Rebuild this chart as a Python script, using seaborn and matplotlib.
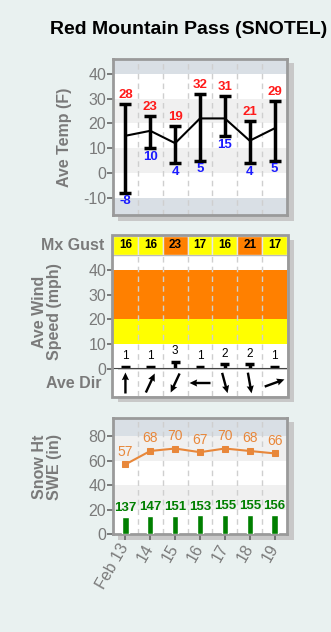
import numpy as np
import pandas as pd
import matplotlib
matplotlib.use("Agg")
import matplotlib.pyplot as plt
import seaborn as sns
from matplotlib.patches import Rectangle

# ---------------- data ----------------
dates = ["Feb 13", "14", "15", "16", "17", "18", "19"]
temp_max = [28, 23, 19, 32, 31, 21, 29]
temp_min = [-8, 10, 4, 5, 15, 4, 5]
temp_avg = [15, 17, 12, 22, 22, 13, 18]
gust = [16, 16, 23, 17, 16, 21, 17]
wind_avg = [1, 1, 3, 1, 2, 2, 1]
wind_dir_deg = [90, 65, 245, 180, 285, 280, 20]   # screen angle the arrow points to
snow_depth = [57, 68, 70, 67, 70, 68, 66]
swe = [13.7, 14.7, 15.1, 15.3, 15.5, 15.5, 15.6]
swe_labels = ["137", "147", "151", "153", "155", "155", "156"]

temp_ticks = [-10, 0, 10, 20, 30, 40]
wind_ticks = [0, 10, 20, 30, 40]
snow_ticks = [0, 20, 40, 60, 80]

# ---------------- style ----------------
sns.set_theme(style="white")
plt.rcParams["font.family"] = ["Liberation Sans", "DejaVu Sans"]

W, H = 331, 632
BG = "#e9f1f0"
GREY_TXT = "#7a7a7a"
FRAME = "#9a9a9a"
SHADOW = "#c8c8c8"
BAND_BLUE = "#d9dfe5"
BAND_GREY = "#f0f0f0"
ORANGE = "#ff8000"
YELLOW = "#ffff00"
SNOW_C = "#e8873a"
SWE_C = "#007f00"
DASH = "#cfcfcf"

fig = plt.figure(figsize=(W / 100, H / 100), dpi=100, facecolor=BG)


def rect(x0, y0, x1, y1):
    return [x0 / W, 1 - y1 / H, (x1 - x0) / W, (y1 - y0) / H]


def shadow(x0, y0, x1, y1, dx=6, dy=5):
    r = Rectangle(((x0 + dx) / W, 1 - (y1 + dy) / H), (x1 - x0) / W, (y1 - y0) / H,
                  transform=fig.transFigure, facecolor=SHADOW, edgecolor="none", zorder=-1)
    fig.patches.append(r)


def frame(x0, y0, x1, y1):
    r = Rectangle((x0 / W, 1 - y1 / H), (x1 - x0) / W, (y1 - y0) / H,
                  transform=fig.transFigure, facecolor="none", edgecolor=FRAME, lw=2, zorder=10)
    fig.patches.append(r)


def style_axis(ax, ticks, spines=True):
    ax.set_xlim(-0.5, 6.5)
    ax.set_yticks(ticks)
    ax.set_yticklabels([str(t) for t in ticks], color=GREY_TXT, fontsize=11.5)
    ax.tick_params(axis="y", direction="out", length=4, width=1.2, color="#666666", pad=1, left=True)
    for s in ax.spines.values():
        s.set_visible(spines)
        s.set_color(FRAME)
        s.set_linewidth(2)
    for b in np.arange(0.5, 6.5, 1):
        ax.axvline(b, color=DASH, lw=1, ls=(0, (4, 3)), zorder=1)


xs = np.arange(len(dates))

fig.text(189 / W, 1 - 30 / H, "Red Mountain Pass (SNOTEL)", ha="center", va="center",
         fontsize=14, fontweight="bold", color="black")

# ---------------- temperature panel ----------------
shadow(112, 58, 288, 216)
ax1 = fig.add_axes(rect(113, 59, 287, 215))
ax1.set_facecolor("white")
ax1.set_ylim(-17, 46)
for lo, hi, c in [(40, 46, BAND_BLUE), (20, 30, BAND_GREY), (0, 10, BAND_GREY), (-17, -10, BAND_BLUE)]:
    ax1.axhspan(lo, hi, color=c, zorder=0, lw=0)
style_axis(ax1, temp_ticks)
ax1.set_xticks([])
tdf = pd.DataFrame({"x": xs, "avg": temp_avg, "mn": temp_min, "mx": temp_max})
ax1.errorbar(tdf["x"], tdf["avg"], yerr=[tdf["avg"] - tdf["mn"], tdf["mx"] - tdf["avg"]],
             fmt="none", ecolor="black", elinewidth=2.5, capsize=4, capthick=2.5, zorder=3)
sns.lineplot(data=tdf, x="x", y="avg", color="black", lw=1.5, ax=ax1, zorder=4)
for i in xs:
    ax1.annotate(str(temp_max[i]), (i, temp_max[i]), xytext=(0, 2), textcoords="offset points",
                 ha="center", va="bottom", color="#ff1a1a", fontsize=9.5, fontweight="bold")
    ax1.annotate(str(temp_min[i]), (i, temp_min[i]), xytext=(0, -2), textcoords="offset points",
                 ha="center", va="top", color="#1a1aff", fontsize=9.5, fontweight="bold")
ax1.set_xlabel("")
ax1.set_ylabel("Ave Temp (F)", color=GREY_TXT, fontsize=11.5, fontweight="bold")
ax1.yaxis.set_label_coords((72 - 113) / 174, 0.5)

# ---------------- wind panel ----------------
shadow(112, 235, 288, 397)
axg = fig.add_axes(rect(113, 236, 287, 255))
axg.set_xlim(-0.5, 6.5)
axg.set_ylim(0, 1)
gcolors = [YELLOW if g < 20 else ORANGE for g in gust]
axg.bar(xs, [1] * len(xs), width=1, color=gcolors, edgecolor="#e6e6e6", lw=1)
for i in xs:
    axg.text(i, 0.5, str(gust[i]), ha="center", va="center", fontsize=8.5,
             fontweight="bold", color="black")
axg.set_xticks([])
axg.set_yticks([])
for s in axg.spines.values():
    s.set_visible(False)

axw = fig.add_axes(rect(113, 255, 287, 369))
axw.set_facecolor("white")
axw.set_ylim(0, 46)
axw.axhspan(20, 40, color=ORANGE, lw=0, zorder=0)
axw.axhspan(10, 20, color=YELLOW, lw=0, zorder=0)
style_axis(axw, wind_ticks, spines=False)
axw.set_xticks([])
axw.axhline(46, color="#bbbbbb", lw=1)
axw.vlines(xs, 0, wind_avg, color="black", lw=2.5, zorder=3)
axw.hlines(wind_avg, xs - 0.18, xs + 0.18, color="black", lw=2.5, zorder=3)
for i in xs:
    axw.annotate(str(wind_avg[i]), (i, wind_avg[i]), xytext=(0, 3), textcoords="offset points",
                 ha="center", va="bottom", fontsize=8.5, color="black")
axw.axhline(0, color="#444444", lw=1.5, zorder=4)
axw.set_ylabel("Ave Wind\nSpeed (mph)", color=GREY_TXT, fontsize=11.5, fontweight="bold",
               linespacing=1.0)
axw.yaxis.set_label_coords((62 - 113) / 174, 0.5)

axd = fig.add_axes(rect(113, 370, 287, 396))
axd.set_facecolor("white")
axd.set_xlim(-0.5, 6.5)
axd.set_ylim(-1, 1)
for b in np.arange(0.5, 6.5, 1):
    axd.axvline(b, color=DASH, lw=1, ls=(0, (4, 3)), zorder=1)
ang = np.deg2rad(wind_dir_deg)
L = 21
axd.quiver(xs, np.zeros(len(xs)), L * np.cos(ang), L * np.sin(ang), angles="uv",
           scale_units="dots", scale=1, pivot="middle", units="dots", width=2.4,
           headwidth=3.0, headlength=3.2, headaxislength=2.9, color="black", zorder=3)
axd.set_xticks([])
axd.set_yticks([])
for s in axd.spines.values():
    s.set_visible(False)
frame(112, 235, 288, 397)

fig.text(104 / W, 1 - 245 / H, "Mx Gust", ha="right", va="center", fontsize=11.5,
         fontweight="bold", color=GREY_TXT)
fig.text(102 / W, 1 - 384 / H, "Ave Dir", ha="right", va="center", fontsize=11.5,
         fontweight="bold", color=GREY_TXT)

# ---------------- snow panel ----------------
shadow(112, 417, 288, 535)
ax3 = fig.add_axes(rect(113, 418, 287, 534))
ax3.set_facecolor("white")
ax3.set_ylim(0, 95)
for lo, hi, c in [(80, 95, BAND_BLUE), (60, 80, BAND_GREY), (20, 40, BAND_GREY)]:
    ax3.axhspan(lo, hi, color=c, zorder=0, lw=0)
sdf = pd.DataFrame({"date": dates, "x": xs, "swe": swe, "depth": snow_depth})
sns.barplot(data=sdf, x="date", y="swe", color=SWE_C, saturation=1, width=0.25, ax=ax3, zorder=3)
sns.lineplot(data=sdf, x="x", y="depth", color=SNOW_C, lw=1.5, marker="s", markersize=5,
             markeredgecolor=SNOW_C, ax=ax3, zorder=4)
style_axis(ax3, snow_ticks)
for i in xs:
    ax3.annotate(str(snow_depth[i]), (i, snow_depth[i]), xytext=(0, 4), textcoords="offset points",
                 ha="center", va="bottom", fontsize=10, color=SNOW_C)
    ax3.annotate(swe_labels[i], (i, swe[i]), xytext=(0, 2), textcoords="offset points",
                 ha="center", va="bottom", fontsize=9.5, fontweight="bold", color=SWE_C)
ax3.set_xticks(xs)
ax3.set_xticklabels(dates, rotation=60, ha="right", va="center", rotation_mode="anchor",
                    color=GREY_TXT, fontsize=11.5)
ax3.tick_params(axis="x", direction="out", length=4, width=1.2, color="#666666", pad=4, bottom=True)
ax3.set_xlabel("")
ax3.set_ylabel("Snow Ht\nSWE (in)", color=GREY_TXT, fontsize=11.5, fontweight="bold",
               linespacing=1.0)
ax3.yaxis.set_label_coords((62 - 113) / 174, 0.58)

fig.savefig("out.png", dpi=100, facecolor=BG)
